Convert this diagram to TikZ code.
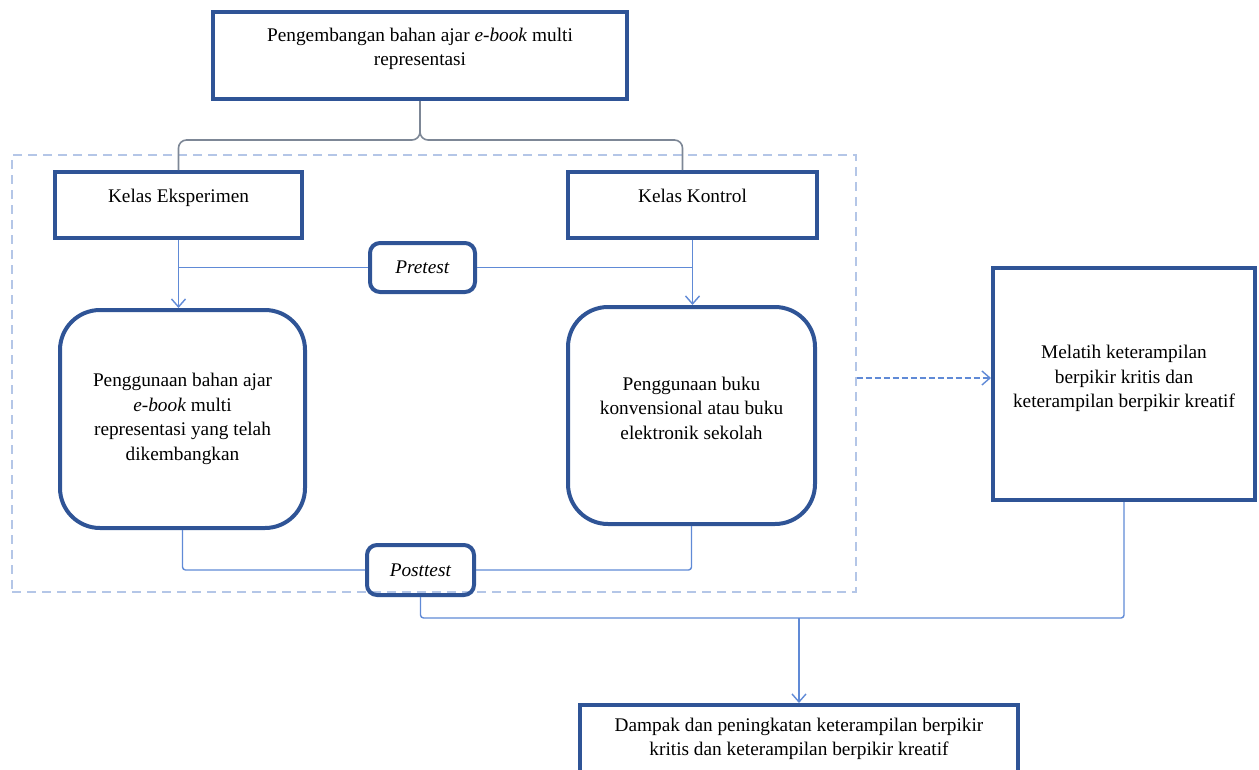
\documentclass[tikz,border=0pt]{standalone}
\usepackage{fontspec}
\setmainfont{Liberation Serif}
\usetikzlibrary{arrows.meta}

\definecolor{boxblue}{RGB}{47,84,150}
\definecolor{lineblue}{RGB}{96,138,214}
\definecolor{bracegray}{RGB}{125,135,150}
\definecolor{frameblue}{RGB}{180,198,231}

\begin{document}
\begin{tikzpicture}[%
      x=1pt, y=-1pt,
      font=\fontsize{19.3}{24.5}\selectfont,
      plainbox/.style={draw=boxblue, line width=4pt, align=center, inner sep=4pt},
      roundbox/.style={plainbox, rounded corners=40pt},
      testbox/.style={plainbox, rounded corners=10pt},
      conn/.style={draw=lineblue, line width=1.4pt},
      tip/.style={-{Straight Barb[length=8pt,width=14pt,line width=1.4pt]}},
      bracepath/.style={draw=bracegray, line width=1.6pt, rounded corners=8pt},
      groupframe/.style={draw=frameblue, line width=1.3pt, dash pattern=on 9pt off 6pt},
      ]
      \useasboundingbox (0,0) rectangle (1259,769);
      \clip (0,0) rectangle (1259,769);

      % dashed frame round the two classes
      \node [groupframe, minimum width=844pt, minimum height=437pt] (grp) at (434,373.5) {};

      \node [plainbox, minimum width=414pt, minimum height=87pt] (dev) at (420,55.5)
            {Pengembangan bahan ajar \emph{e-book} multi\\representasi\\[-7pt]};

      \node [plainbox, minimum width=247pt, minimum height=66pt] (eks) at (178.5,205) {Kelas Eksperimen\\[-6pt]};
      \node [plainbox, minimum width=249pt, minimum height=66pt] (kon) at (692.5,205) {Kelas Kontrol\\[-6pt]};

      \node [testbox, minimum width=105pt, minimum height=49pt] (pre) at (422.5,267.5) {\emph{Pretest}};

      \node [roundbox, minimum width=245pt, minimum height=218pt] (useE) at (182.5,419)
            {Penggunaan bahan ajar\\\emph{e-book} multi\\representasi yang telah\\dikembangkan};
      \node [roundbox, minimum width=247pt, minimum height=217pt] (useK) at (691.5,415.5)
            {Penggunaan buku\\konvensional atau buku\\elektronik sekolah\\[-9.5pt]};

      \node [testbox, minimum width=107pt, minimum height=50pt] (post) at (420.5,570) {\emph{Posttest}};

      \node [plainbox, minimum width=262pt, minimum height=232pt] (lat) at (1124,384)
            {Melatih keterampilan\\berpikir kritis dan\\keterampilan berpikir kreatif\\[-9.5pt]};

      \node [plainbox, minimum width=438pt, minimum height=114pt, anchor=north] (dam) at (799,703)
            {Dampak dan peningkatan keterampilan berpikir\\kritis dan keterampilan berpikir kreatif\\[26pt]};

      \coordinate (brc) at (0,140);
      \coordinate (jn) at (0,618);

      % brace
      \draw [bracepath] (dev.south) -- (dev.south |- brc) -| (eks.north);
      \draw [bracepath] (dev.south) -- (dev.south |- brc) -| ([xshift=-10pt]kon.north);

      % pretest
      \draw [conn, tip] (eks.south) -- (eks.south |- useE.north);
      \draw [conn, tip] (kon.south) -- (kon.south |- useK.north);
      \draw [conn] (pre.west) -- (pre.west -| eks.south);
      \draw [conn] (pre.east) -- (pre.east -| kon.south);

      % posttest
      \draw [conn, rounded corners=3pt] (useE.south) |- (post.west);
      \draw [conn, rounded corners=3pt] (useK.south) |- (post.east);
      \draw [conn, rounded corners=3pt] (post.south) |- (jn -| lat.south) -- (lat.south);
      \draw [conn, tip] (dam.north |- jn) -- (dam.north);

      \draw [conn, tip, dash pattern=on 6pt off 3pt] ([yshift=6pt]grp.east |- lat.west) -- ([yshift=6pt]lat.west);
\end{tikzpicture}
\end{document}
